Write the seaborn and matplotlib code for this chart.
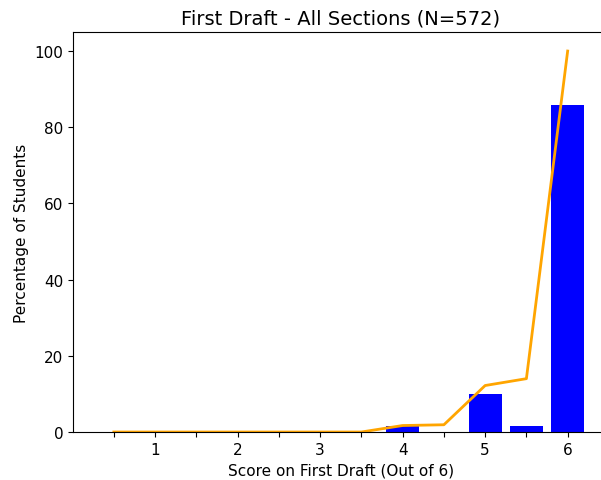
import matplotlib
matplotlib.use("Agg")
import matplotlib.pyplot as plt
import seaborn as sns
import numpy as np
import pandas as pd

# Data
scores = [0.5, 1.0, 1.5, 2.0, 2.5, 3.0, 3.5, 4.0, 4.5, 5.0, 5.5, 6.0]
percent = [0, 0, 0, 0, 0, 0, 0, 1.6, 0, 10.1, 1.7, 85.8]
cumulative = [0, 0, 0, 0, 0, 0, 0, 1.7, 1.9, 12.2, 14.0, 100.0]
tick_positions = [0.5, 1.0, 1.5, 2.0, 2.5, 3.0, 3.5, 4.0, 4.5, 5.0, 5.5, 6.0]
tick_labels = ["", "1", "", "2", "", "3", "", "4", "", "5", "", "6"]

df = pd.DataFrame({"score": scores, "percent": percent, "cumulative": cumulative})

fig = plt.figure(figsize=(6.01, 4.81), dpi=100)
ax = fig.add_axes([73 / 601, 48 / 481, 535.5 / 601, 400 / 481])

sns.barplot(data=df, x="score", y="percent", native_scale=True, width=0.8,
            color="#0000FF", saturation=1, linewidth=0, ax=ax)
sns.lineplot(data=df, x="score", y="cumulative", color="orange", linewidth=2, ax=ax)

ax.set_xlim(0.005, 6.495)
ax.set_ylim(0, 105)
ax.set_xticks(tick_positions)
ax.set_xticklabels(tick_labels)
ax.set_yticks([0, 20, 40, 60, 80, 100])
ax.tick_params(labelsize=11)
ax.set_title("First Draft - All Sections (N=572)", fontsize=14)
ax.set_xlabel("Score on First Draft (Out of 6)", fontsize=11)
ax.set_ylabel("Percentage of Students", fontsize=11)

fig.savefig("out.png", dpi=100)
